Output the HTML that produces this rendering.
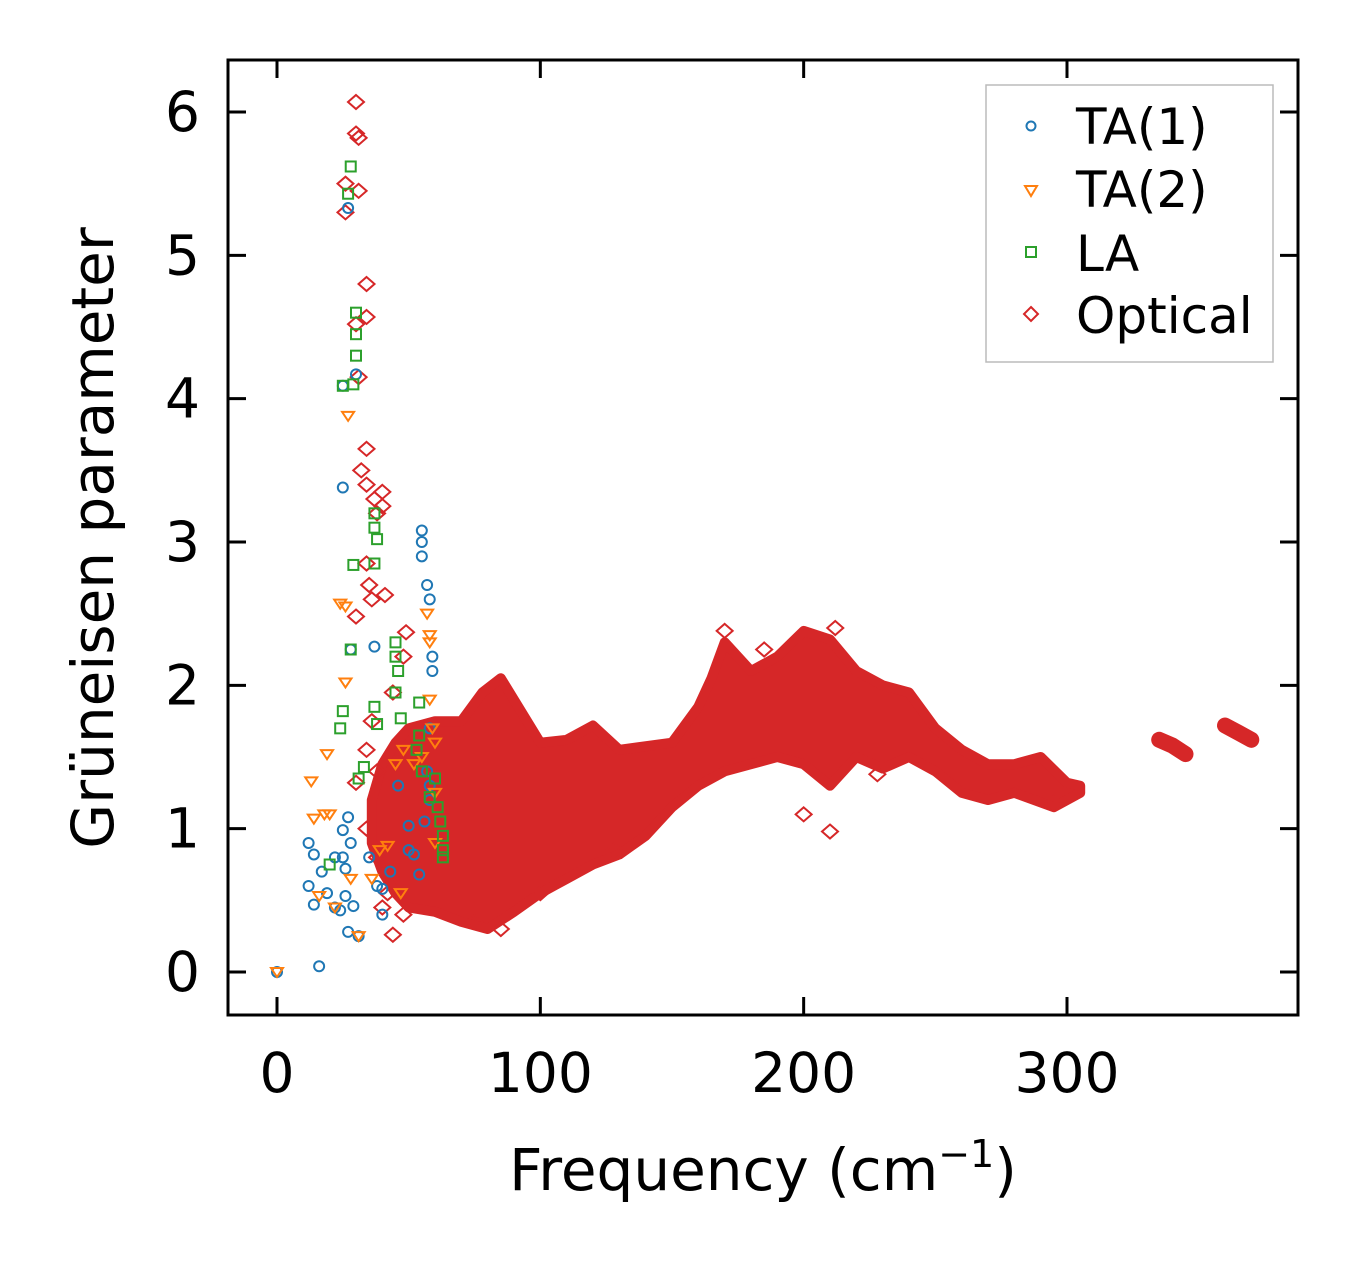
<!DOCTYPE html>
<html><head><meta charset="utf-8"><style>
html,body{margin:0;padding:0;background:#fff;}
svg text{font-family:"DejaVu Sans","Liberation Sans",sans-serif;}
</style></head><body>
<svg id="chart" width="1357" height="1264" xmlns="http://www.w3.org/2000/svg">
<g id="marks"></g>
<rect x="228" y="60" width="1070" height="955" fill="none" stroke="#000" stroke-width="3"/>
<g id="axes"></g>
<text x="763" y="1190" font-size="58" text-anchor="middle">Frequency (cm<tspan font-size="38" dy="-23">−1</tspan><tspan dy="23">)</tspan></text>
<text transform="translate(113,538) rotate(-90)" font-size="58" text-anchor="middle">Grüneisen parameter</text>
<g>
<rect x="986" y="85" width="287" height="277" fill="#fff" stroke="#bbb" stroke-width="1.5"/>
<circle cx="1031" cy="126" r="4.5" fill="none" stroke="#1f77b4" stroke-width="2"/>
<text x="1076" y="144" font-size="50">TA(1)</text>
<path d="M1025,186 L1037,186 L1031,196 Z" fill="none" stroke="#ff7f0e" stroke-width="2"/>
<text x="1076" y="207" font-size="50">TA(2)</text>
<rect x="1026" y="247" width="10" height="10" fill="none" stroke="#2ca02c" stroke-width="2"/>
<text x="1076" y="271" font-size="50">LA</text>
<path d="M1031,307 L1038,314 L1031,321 L1024,314 Z" fill="none" stroke="#d62728" stroke-width="2"/>
<text x="1076" y="333" font-size="50">Optical</text>
</g>
</svg>
<script>
const xTicks=[0,100,200,300];
const yTicks=[0,1,2,3,4,5,6];
const optUpper=[[36,1.2],[40,1.45],[45,1.6],[50,1.7],[60,1.75],[70,1.75],[78,1.95],[85,2.05],[90,1.9],[100,1.6],[110,1.62],[120,1.72],[130,1.55],[150,1.6],[160,1.85],[165,2.05],[170,2.3],[180,2.1],[190,2.2],[200,2.38],[210,2.32],[220,2.1],[230,2.0],[240,1.95],[250,1.7],[260,1.55],[270,1.45],[280,1.45],[290,1.5],[300,1.32],[305,1.3]];
const optLower=[[305,1.25],[295,1.15],[280,1.25],[270,1.2],[260,1.25],[250,1.4],[240,1.5],[230,1.42],[220,1.5],[210,1.3],[200,1.45],[190,1.5],[180,1.45],[170,1.4],[160,1.3],[150,1.15],[140,0.95],[130,0.82],[120,0.75],[110,0.65],[100,0.55],[90,0.42],[80,0.3],[70,0.35],[60,0.42],[50,0.45],[45,0.55],[40,0.7],[36,0.9]];
const optSeg1=[[335,1.62],[340,1.58],[345,1.52]];
const optSeg2=[[360,1.72],[365,1.67],[370,1.62]];
const optPts=[[30,6.07],[30,5.85],[31,5.82],[26,5.5],[31,5.45],[26,5.3],[34,4.8],[34,4.57],[30,4.52],[31,4.15],[34,3.65],[32,3.5],[34,3.4],[37,3.3],[40,3.35],[40,3.25],[38,3.2],[34,2.85],[35,2.7],[36,2.6],[41,2.63],[30,2.48],[49,2.37],[48,2.2],[44,1.95],[36,1.75],[34,1.55],[38,1.4],[30,1.32],[34,1.0],[38,0.8],[42,0.55],[40,0.45],[44,0.26],[48,0.4],[75,0.35],[85,0.3],[100,0.55],[128,0.85],[170,2.38],[185,2.25],[212,2.4],[228,1.38],[210,0.98],[200,1.1],[295,1.18]];
const ta1=[[0,0],[12,0.9],[14,0.82],[17,0.7],[19,0.55],[12,0.6],[14,0.47],[22,0.45],[24,0.43],[22,0.8],[25,0.8],[27,1.08],[25,0.99],[28,0.9],[26,0.72],[26,0.53],[29,0.46],[27,0.28],[31,0.25],[16,0.04],[35,0.8],[38,0.6],[40,0.58],[43,0.7],[40,0.4],[50,0.85],[50,1.02],[52,0.82],[54,0.68],[55,3.08],[55,3.0],[55,2.9],[57,2.7],[58,2.6],[59,2.2],[59,2.1],[58,1.7],[57,1.4],[58,1.3],[58,1.2],[56,1.05],[27,5.33],[30,4.17],[25,4.09],[25,3.38],[28,2.25],[37,2.27],[46,1.3]];
const ta2=[[0,0],[13,1.33],[14,1.07],[18,1.1],[20,1.1],[19,1.52],[24,2.57],[26,2.55],[27,3.88],[26,2.02],[16,0.53],[22,0.45],[28,0.65],[31,0.25],[36,0.65],[39,0.85],[45,1.45],[48,1.55],[52,1.45],[55,1.5],[57,2.5],[58,2.35],[58,2.3],[58,1.9],[59,1.7],[60,1.6],[60,1.25],[60,0.9],[47,0.55],[42,0.88]];
const la=[[28,5.62],[27,5.43],[30,4.6],[30,4.45],[30,4.3],[29,4.1],[25,4.09],[37,3.2],[37,3.1],[38,3.02],[37,2.85],[29,2.84],[28,2.25],[25,1.82],[24,1.7],[20,0.75],[31,1.35],[33,1.43],[37,1.85],[38,1.73],[45,2.3],[45,2.2],[46,2.1],[45,1.95],[47,1.77],[54,1.65],[54,1.88],[53,1.55],[55,1.4],[60,1.35],[61,1.15],[62,1.05],[63,0.95],[63,0.85],[63,0.8],[58,1.22]];
const X=v=>277+v*2.6333, Y=v=>972-v*143.33;
const NS="http://www.w3.org/2000/svg";
const marks=document.getElementById('marks'), axes=document.getElementById('axes');
function mk(tag,attrs,parent){const e=document.createElementNS(NS,tag);for(const k in attrs)e.setAttribute(k,attrs[k]);parent.appendChild(e);return e;}
const red="#d62728";
function band(pts,name){
 const d=pts.map((p,i)=>(i?'L':'M')+X(p[0]).toFixed(1)+','+Y(p[1]).toFixed(1)).join(' ')+' Z';
 const e=mk('path',{d:d,fill:red,stroke:red,'stroke-width':10,'stroke-linejoin':'round'},marks);
 
 
}
band(optUpper.concat(optLower),'optical-band');
function seg(pts,name){
 const d=pts.map((p,i)=>(i?'L':'M')+X(p[0]).toFixed(1)+','+Y(p[1]).toFixed(1)).join(' ');
 const e=mk('path',{d:d,fill:'none',stroke:red,'stroke-width':16,'stroke-linecap':'round'},marks);
 
 
}
seg(optSeg1,'optical-segment-335');
seg(optSeg2,'optical-segment-365');
optPts.forEach(p=>{const x=X(p[0]),y=Y(p[1]);
 const e=mk('path',{d:`M${x},${y-7} L${x+8},${y} L${x},${y+7} L${x-8},${y} Z`,fill:'none',stroke:red,'stroke-width':2},marks);
 
 });
ta1.forEach(p=>{const e=mk('circle',{cx:X(p[0]),cy:Y(p[1]),r:5,fill:'none',stroke:'#1f77b4','stroke-width':2},marks);
 
 });
ta2.forEach(p=>{const x=X(p[0]),y=Y(p[1]);
 const e=mk('path',{d:`M${x-6},${y-4} L${x+6},${y-4} L${x},${y+5} Z`,fill:'none',stroke:'#ff7f0e','stroke-width':2},marks);
 
 });
la.forEach(p=>{const e=mk('rect',{x:X(p[0])-5,y:Y(p[1])-5,width:10,height:10,fill:'none',stroke:'#2ca02c','stroke-width':2},marks);
 
 });
xTicks.forEach(t=>{const x=X(t);
 mk('line',{x1:x,x2:x,y1:1015,y2:997,stroke:'#000','stroke-width':3},axes);
 mk('line',{x1:x,x2:x,y1:60,y2:78,stroke:'#000','stroke-width':3},axes);
 const e=mk('text',{x:x,y:1092,'font-size':55,'text-anchor':'middle'},axes);e.textContent=t;
 
 });
yTicks.forEach(t=>{const y=Y(t);
 mk('line',{x1:228,x2:246,y1:y,y2:y,stroke:'#000','stroke-width':3},axes);
 mk('line',{x1:1298,x2:1280,y1:y,y2:y,stroke:'#000','stroke-width':3},axes);
 const e=mk('text',{x:200,y:y+19,'font-size':55,'text-anchor':'end'},axes);e.textContent=t;
 
 });
</script>
</body></html>
